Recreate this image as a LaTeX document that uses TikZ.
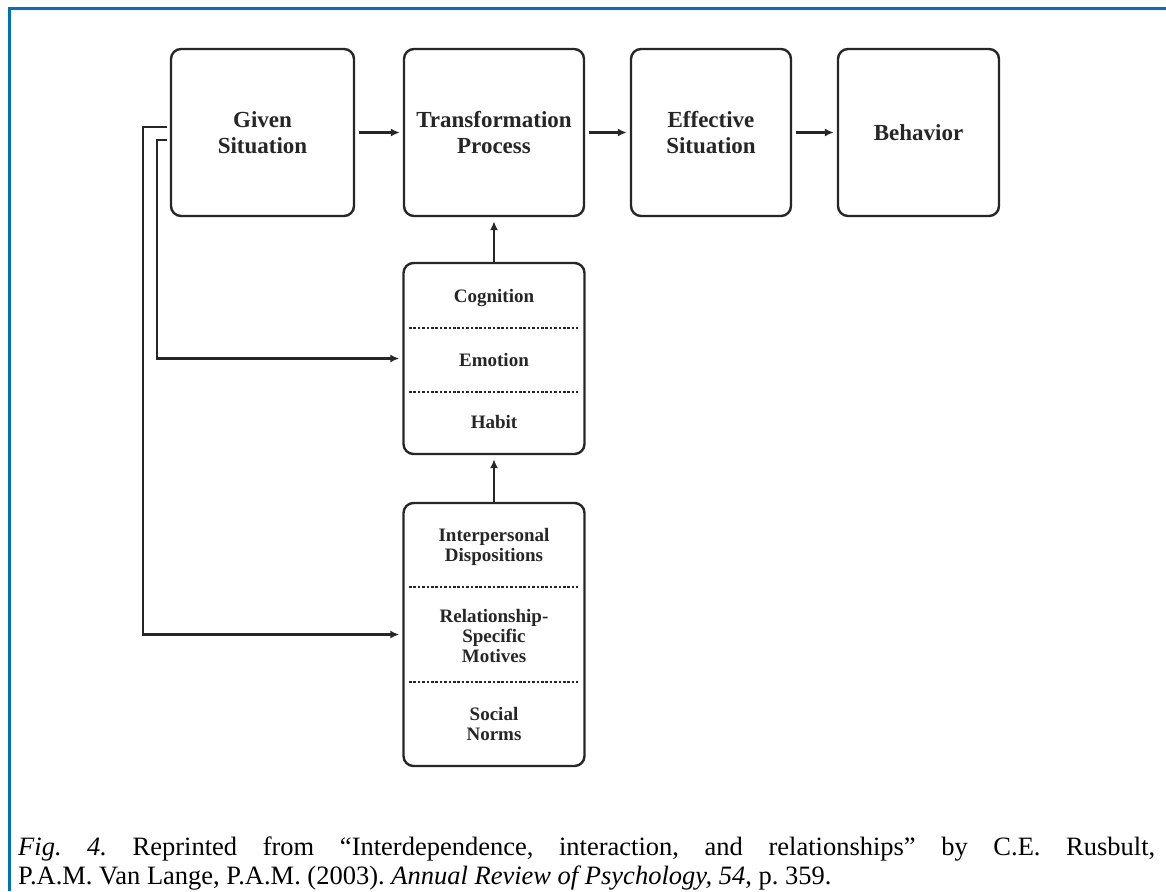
\documentclass[tikz,border=0pt]{standalone}
\usepackage{fontspec}
\setmainfont{Liberation Serif}
\usetikzlibrary{arrows.meta}
\definecolor{framecol}{HTML}{0070C0}
\definecolor{ink}{HTML}{262626}
\frenchspacing
\begin{document}
\begin{tikzpicture}[x=1pt,y=-1pt,
  box/.style={draw=ink, line width=2.4pt, rounded corners=10pt, inner sep=0pt},
  toplabel/.style={font=\fontsize{23}{26}\selectfont\bfseries, align=center, text=ink},
  inlabel/.style={font=\fontsize{19}{20}\selectfont\bfseries, align=center, text=ink, inner sep=0pt},
  flow/.style={draw=ink, line width=2.3pt, -{Latex[length=9pt,width=8pt]}},
  divider/.style={draw=ink, line width=1.8pt, dash pattern=on 2.6pt off 1.8pt},
  frame/.style={draw=framecol, line width=2.6pt},
  caption/.style={font=\fontsize{26.5}{30}\selectfont, anchor=base west, inner sep=0pt}
]
\useasboundingbox (0,0) rectangle (1166,891);

% outer frame (top and left rules)
\draw[frame] (9.5,891) -- (9.5,8.5) -- (1166,8.5);

% top row of stages
\node[box, toplabel, minimum width=183pt, minimum height=167pt] (given) at (262.5,132.5) {Given\\Situation};
\node[box, toplabel, minimum width=180pt, minimum height=167pt] (tp) at (494,132.5) {Transformation\\Process};
\node[box, toplabel, minimum width=160pt, minimum height=167pt] (es) at (711,132.5) {Effective\\Situation};
\node[box, toplabel, minimum width=161pt, minimum height=167pt] (beh) at (918.5,132.5) {Behavior};

% proximal determinants
\node[box, minimum width=181pt, minimum height=191pt] (mid) at (494,358.5) {};
\node[inlabel] (cog) at (494,298) {Cognition};
\node[inlabel] (emo) at (494,360) {Emotion};
\node[inlabel] (hab) at (494,422) {Habit};
\draw[divider] (409,328) -- (578,328);
\draw[divider] (409,392) -- (578,392);

% distal determinants
\node[box, minimum width=181pt, minimum height=263pt] (bot) at (494,634.5) {};
\node[inlabel] (disp) at (494,547) {Interpersonal\\Dispositions};
\node[inlabel] (mot) at (494,636) {Relationship-\\Specific\\Motives};
\node[inlabel] (norm) at (494,723.5) {Social\\Norms};
\draw[divider] (409,587) -- (578,587);
\draw[divider] (409,682) -- (578,682);

% connectors
\draw[flow, shorten <=4pt, shorten >=3pt] (given) -- (tp);
\draw[flow, shorten <=4pt, shorten >=3pt] (tp) -- (es);
\draw[flow, shorten <=4pt, shorten >=3pt] (es) -- (beh);
\draw[flow, shorten >=4pt] (mid) -- (tp);
\draw[flow, shorten >=4pt] (bot) -- (mid);
\draw[flow, shorten <=3pt, shorten >=3pt] ([yshift=5.5pt]given.west) -- ++(-27,0) |- (bot.west);
\draw[flow, shorten <=3pt, shorten >=3pt] ([yshift=-7.5pt]given.west) -- ++(-13,0) |- (mid.west);

% caption (first line justified to the full measure)
\node[caption] (cap1) at (18,855) {\makebox[1137pt][s]{\textit{Fig. 4.} Reprinted from “Interdependence, interaction, and relationships” by C.E. Rusbult,}};
\node[caption] (cap2) at (18,884) {P.A.M. Van Lange, P.A.M. (2003). \textit{Annual Review of Psychology, 54}, p. 359.};
\end{tikzpicture}
\end{document}
